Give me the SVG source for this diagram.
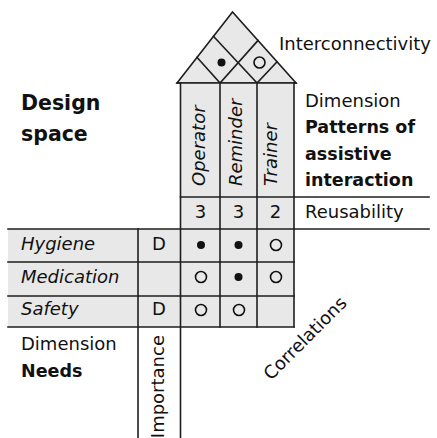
<svg xmlns="http://www.w3.org/2000/svg" width="437" height="438" viewBox="0 0 437 438">
  <style>
    .cell { fill: #e8e8e8; stroke: none; }
    .ln { stroke: #1e1e1e; stroke-width: 1.6; fill: none; stroke-linecap: square; }
    .t { font-family: "DejaVu Sans", Verdana, sans-serif; font-size: 18px; fill: #111; }
    .b { font-weight: bold; }
    .i { font-style: italic; }
    .c { text-anchor: middle; }
    .dot { fill: #111; }
    .ring { fill: none; stroke: #111; stroke-width: 1.6; }
  </style>
  <rect width="437" height="438" fill="#fff"/>

  <!-- roof: correlation matrix between the patterns -->
  <g id="roof">
    <polygon class="cell" points="177,83 232.5,12 296,83"/>
    <g class="ln">
      <polygon points="177,83 232.5,12 296,83"/>
      <line x1="220" y1="83" x2="197" y2="57.4"/>
      <line x1="220" y1="83" x2="258" y2="40.5"/>
      <line x1="257" y1="83" x2="213.5" y2="36.3"/>
      <line x1="257" y1="83" x2="277" y2="61.8"/>
    </g>
    <circle class="dot" cx="221.5" cy="62.5" r="4"/>
    <circle class="ring" cx="259.5" cy="62.5" r="5.5"/>
  </g>
  <text id="interconnectivity" class="t" x="279" y="50">Interconnectivity</text>

  <!-- pattern columns -->
  <g id="col-operator">
    <rect class="cell" x="180.5" y="83" width="39.5" height="146"/>
    <text class="t i" transform="translate(205,186) rotate(-90)">Operator</text>
    <text class="t c" x="200.5" y="218">3</text>
  </g>
  <g id="col-reminder">
    <rect class="cell" x="220" y="83" width="37" height="146"/>
    <text class="t i" transform="translate(241.5,186) rotate(-90)">Reminder</text>
    <text class="t c" x="238.5" y="218">3</text>
  </g>
  <g id="col-trainer">
    <rect class="cell" x="257" y="83" width="37" height="146"/>
    <text class="t i" transform="translate(277,186) rotate(-90)">Trainer</text>
    <text class="t c" x="275.5" y="218">2</text>
  </g>

  <!-- need rows -->
  <g id="row-hygiene">
    <rect class="cell" x="8" y="229" width="286" height="33"/>
    <text class="t i" x="21" y="250">Hygiene</text>
    <text class="t c" x="159" y="250">D</text>
    <circle class="dot" cx="201" cy="245" r="4"/>
    <circle class="dot" cx="238.5" cy="245" r="4"/>
    <circle class="ring" cx="276" cy="245" r="5.5"/>
  </g>
  <g id="row-medication">
    <rect class="cell" x="8" y="262" width="286" height="34"/>
    <text class="t i" x="21" y="283">Medication</text>
    <circle class="ring" cx="201" cy="277" r="5.5"/>
    <circle class="dot" cx="238.5" cy="277" r="4"/>
    <circle class="ring" cx="276" cy="277" r="5.5"/>
  </g>
  <g id="row-safety">
    <rect class="cell" x="8" y="296" width="286" height="31"/>
    <text class="t i" x="21" y="315">Safety</text>
    <text class="t c" x="159" y="315">D</text>
    <circle class="ring" cx="201" cy="310" r="5.5"/>
    <circle class="ring" cx="239" cy="310" r="5.5"/>
  </g>

  <!-- grid lines -->
  <g id="connectors" class="ln">
    <line x1="177" y1="83" x2="296" y2="83"/>
    <line x1="180.5" y1="197" x2="429" y2="197"/>
    <line x1="8" y1="229" x2="429" y2="229"/>
    <line x1="8" y1="262" x2="294" y2="262"/>
    <line x1="8" y1="296" x2="294" y2="296"/>
    <line x1="8" y1="327" x2="294" y2="327"/>
    <line x1="180.5" y1="83" x2="180.5" y2="440"/>
    <line x1="220" y1="83" x2="220" y2="327"/>
    <line x1="257" y1="83" x2="257" y2="327"/>
    <line x1="294" y1="83" x2="294" y2="327"/>
    <line x1="138" y1="229" x2="138" y2="440"/>
  </g>

  <!-- dimension labels -->
  <g id="design-space">
    <text class="t b" x="21" y="110" style="font-size:20.5px">Design</text>
    <text class="t b" x="21" y="141" style="font-size:20.5px">space</text>
  </g>
  <g id="dimension-patterns">
    <text class="t" x="305" y="107">Dimension</text>
    <text class="t b" x="305" y="133" style="font-size:17.5px">Patterns of</text>
    <text class="t b" x="305" y="160" style="font-size:17.5px">assistive</text>
    <text class="t b" x="305" y="186" style="font-size:17.5px">interaction</text>
  </g>
  <text id="reusability" class="t" x="305" y="218">Reusability</text>
  <g id="dimension-needs">
    <text class="t" x="21" y="350">Dimension</text>
    <text class="t b" x="21" y="377" style="font-size:17.5px">Needs</text>
  </g>
  <text id="importance" class="t" transform="translate(164,335) rotate(-90)" text-anchor="end">Importance</text>
  <text id="correlations" class="t" transform="translate(271,381) rotate(-45)">Correlations</text>
</svg>
